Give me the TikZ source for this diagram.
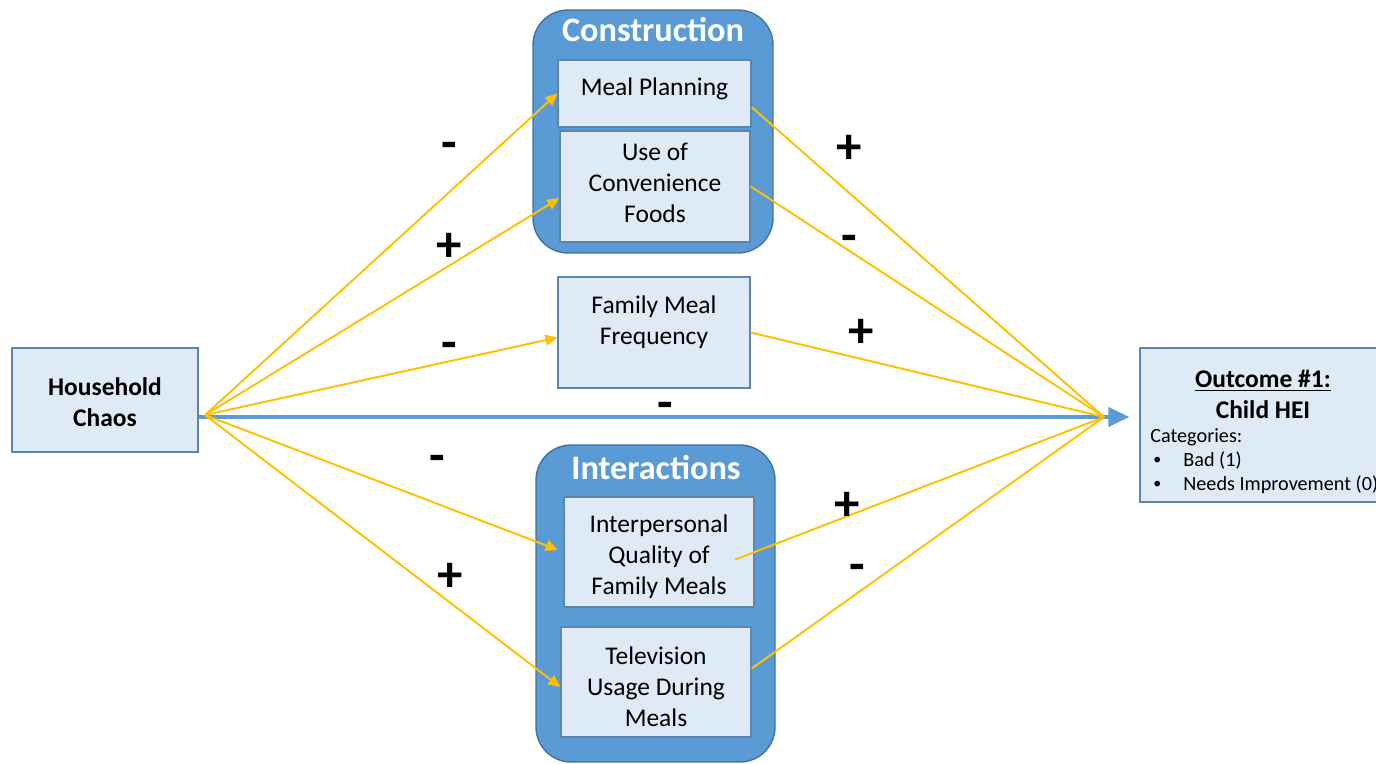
\documentclass[tikz,border=0pt]{standalone}
\usepackage{fontspec}
\setmainfont{Carlito}
\usetikzlibrary{arrows.meta,calc}
\definecolor{groupblue}{HTML}{5B9BD5}
\definecolor{edgeblue}{HTML}{41719C}
\definecolor{boxfill}{HTML}{DEEBF7}
\definecolor{linkyellow}{HTML}{FFC000}
\tikzset{
  varbox/.style={draw=edgeblue!85, line width=0.8pt, fill=boxfill, align=center, inner sep=0pt,
    font=\fontsize{14.5}{17.6}\selectfont},
  groupbox/.style={draw=edgeblue, line width=0.8pt, fill=groupblue, rounded corners=0.7cm, inner sep=0pt},
  grouptitle/.style={text=white, inner sep=0pt, font=\bfseries\fontsize{19.5}{22}\selectfont},
  link/.style={draw=linkyellow, line width=1.1pt},
  linkarrow/.style={link, -{Triangle[length=0.24cm,width=0.22cm]}},
  mainarrow/.style={draw=groupblue, line width=2.3pt, -{Triangle[length=0.42cm,width=0.38cm]}},
  sign/.style={inner sep=0pt, font=\bfseries\fontsize{29}{31}\selectfont},
  smalltext/.style={inner sep=0pt, anchor=west, font=\fontsize{11.5}{13.6}\selectfont},
}
% lines of a box, moved up or down without changing the box size
\newcommand{\lines}[2]{\raisebox{#1}[\height][\depth]{\begin{tabular}{@{}c@{}}#2\end{tabular}}}

\begin{document}
\begin{tikzpicture}[x=0.02cm,y=-0.02cm]
			\useasboundingbox (0,0) rectangle (1376,764);
			
			%%%%% GROUPS %%%%%
			\node[groupbox, minimum width=4.8cm, minimum height=4.86cm] (cons) at (653,131.5) {};
			\node[grouptitle] (constitle) at (653,30) {Construction};
			
			\node[groupbox, minimum width=4.78cm, minimum height=6.34cm] (inter) at (655.5,603.5) {};
			\node[grouptitle] (intertitle) at (656,468) {Interactions};
			
			%%%%% VARIABLES %%%%%
			\node[varbox, minimum width=3.72cm, minimum height=2.08cm] (hc) at (105,400)
			  {\lines{-0.09cm}{\bfseries Household\\\bfseries Chaos}};
			
			\node[varbox, minimum width=3.86cm, minimum height=1.34cm] (mp) at (654.5,93.5)
			  {\lines{0.08cm}{Meal Planning}};
			\node[varbox, minimum width=3.8cm, minimum height=2.22cm] (cf) at (655,186.5)
			  {\lines{0.02cm}{Use of\\Convenience\\Foods}};
			\node[varbox, minimum width=3.84cm, minimum height=2.22cm] (fm) at (654,332.5)
			  {\lines{0.2cm}{Family Meal\\Frequency}};
			
			\node[varbox, minimum width=3.8cm, minimum height=2.2cm] (iq) at (659,552)
			  {\lines{-0.1cm}{Interpersonal\\Quality of\\Family Meals}};
			\node[varbox, minimum width=3.8cm, minimum height=2.2cm] (tv) at (656,682)
			  {\lines{-0.15cm}{Television\\Usage During\\Meals}};
			
			\node[varbox, minimum width=4.8cm, minimum height=3.08cm] (out) at (1260,425) {};
			\node[inner sep=0pt, font=\bfseries\fontsize{14.5}{17.6}\selectfont] (outtitle) at (1263,381) {\underline{Outcome \#1:}};
			\node[inner sep=0pt, font=\bfseries\fontsize{14.5}{17.6}\selectfont] (outname) at (1263,410) {Child HEI};
			\node[smalltext] (cat) at (1150,437) {Categories:};
			\foreach \n/\y/\txt in {c1/461/Bad (1), c2/485/Needs Improvement (0)}{
			  \node[smalltext, font=\fontsize{9}{10}\selectfont] (\n b) at (1153,\y) {\textbullet};
			  \node[smalltext] (\n) at (1183,\y) {\txt};
			}
			
			%%%%% LINKS %%%%%
			\coordinate (src) at (205,415);
			\coordinate (dst) at (1104,417);
			
			\draw[mainarrow] (hc.east |- dst) -- ([xshift=-0.2cm]out.west |- dst);
			
			\foreach \t in {mp.west, cf.187, fm.183, tv.183}
			  \draw[linkarrow] (src) -- (\t);
			\draw[linkarrow, shorten >=0.12cm] (src) -- (iq.west);
			
			\foreach \s in {mp.352, cf.east, fm.east, tv.8}
			  \draw[link] (\s) -- (dst);
			\draw[link, shorten <=-0.42cm] (iq.east) -- (dst);
			
			%%%%% SIGNS %%%%%
			\foreach \n/\x/\y/\sg in {smp/449/151/-, scf/449/247/+, sfm/449/351/-, siq/437/464/-, stv/450/577/+,
			    omp/849/149/+, ocf/849/244/-, ofm/861/333/+, odir/665/411/-, oiq/847/506/+, otv/857/573/-}
			  \node[sign] (\n) at (\x,\y) {\sg};
			
		\end{tikzpicture}
\end{document}
